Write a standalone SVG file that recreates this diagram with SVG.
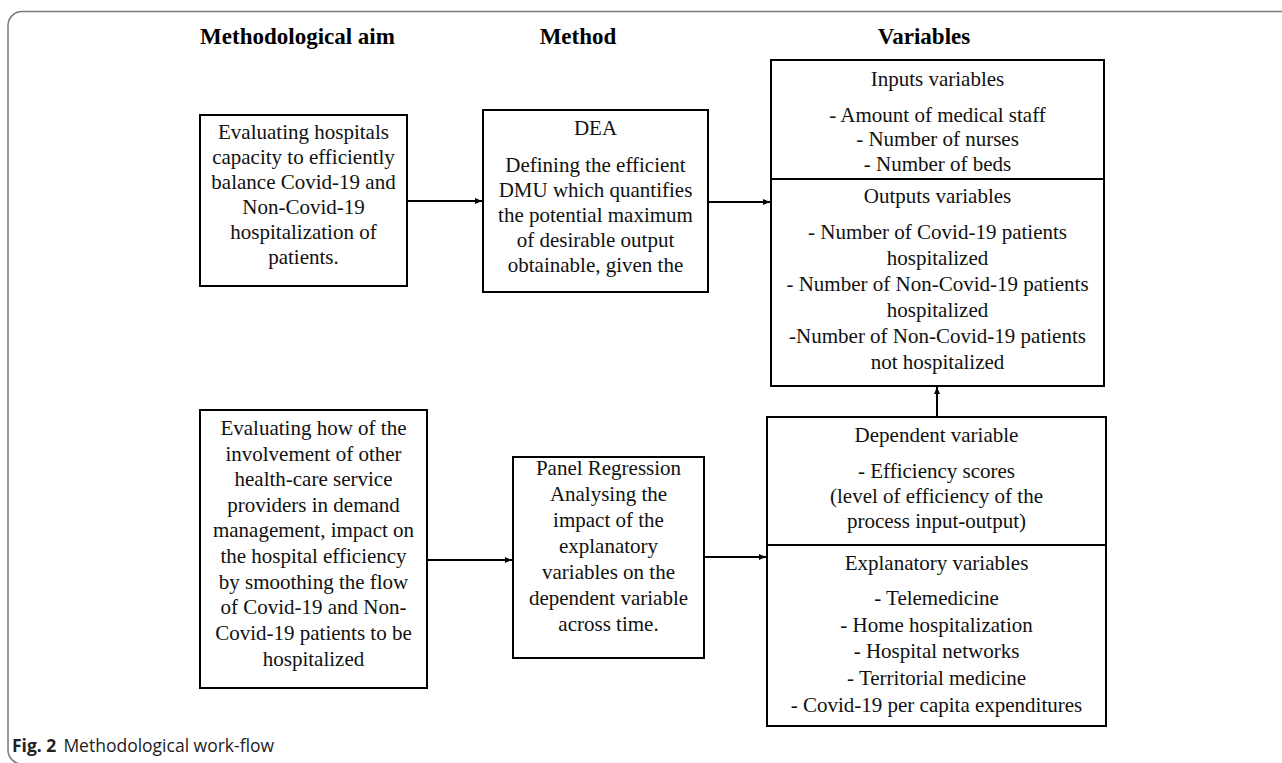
<svg xmlns="http://www.w3.org/2000/svg" width="1282" height="763" viewBox="0 0 1282 763">
<style>
.frame{fill:none;stroke:#7a7a7a;stroke-width:1.5}
.hdr{font-family:"Liberation Serif","Times New Roman",serif;font-weight:bold;font-size:23px;fill:#000;text-anchor:middle}
.t{font-family:"Liberation Serif","Times New Roman",serif;font-size:21px;fill:#111;text-anchor:middle}
.box{fill:#fff;stroke:#000;stroke-width:2}
.div{stroke:#000;stroke-width:2}
.conn{stroke:#000;stroke-width:2;fill:none}
.cap{font-family:"Open Sans","Liberation Sans",sans-serif;font-size:17.5px;fill:#222}
</style>
<defs>
<marker id="ah" markerWidth="8" markerHeight="8" refX="7" refY="4" orient="auto" markerUnits="userSpaceOnUse">
<path d="M0,1 L7,4 L0,7 z" fill="#000"/>
</marker>
</defs>
<rect width="1282" height="763" fill="#fff"/>
<path class="frame" d="M1282,11.5 H22 A14,14 0 0 0 8,25.5 V750 A14,14 0 0 0 22,764"/>

<g id="headers">
<text class="hdr" x="297.5" y="44">Methodological aim</text>
<text class="hdr" x="578" y="44">Method</text>
<text class="hdr" x="924" y="44">Variables</text>
</g>

<g id="connectors">
<line class="conn" x1="407" y1="201" x2="482" y2="201" stroke-width="1.5" marker-end="url(#ah)"/>
<line class="conn" x1="708" y1="202" x2="770" y2="202" marker-end="url(#ah)"/>
<line class="conn" x1="427" y1="560" x2="512" y2="560" marker-end="url(#ah)"/>
<line class="conn" x1="704" y1="557" x2="766" y2="557" marker-end="url(#ah)"/>
<line class="conn" x1="937" y1="417" x2="937" y2="387" stroke-width="1.5" marker-end="url(#ah)"/>
</g>

<g id="aim1">
<rect class="box" x="200" y="115" width="207" height="171"/>
<text class="t" x="303.5" y="139">Evaluating hospitals</text>
<text class="t" x="303.5" y="164">capacity to efficiently</text>
<text class="t" x="303.5" y="189">balance Covid-19 and</text>
<text class="t" x="303.5" y="214">Non-Covid-19</text>
<text class="t" x="303.5" y="239">hospitalization of</text>
<text class="t" x="303.5" y="264">patients.</text>
</g>

<g id="dea">
<rect class="box" x="483" y="110" width="225" height="182"/>
<text class="t" x="595.5" y="135">DEA</text>
<text class="t" x="595.5" y="172">Defining the efficient</text>
<text class="t" x="595.5" y="197">DMU which quantifies</text>
<text class="t" x="595.5" y="222">the potential maximum</text>
<text class="t" x="595.5" y="247">of desirable output</text>
<text class="t" x="595.5" y="272">obtainable, given the</text>
</g>

<g id="io-vars">
<rect class="box" x="771" y="60" width="333" height="326"/>
<line class="div" x1="771" y1="179" x2="1104" y2="179"/>
<text class="t" x="937.5" y="86">Inputs variables</text>
<text class="t" x="937.5" y="122">- Amount of medical staff</text>
<text class="t" x="937.5" y="146">- Number of nurses</text>
<text class="t" x="937.5" y="171">- Number of beds</text>
<text class="t" x="937.5" y="203">Outputs variables</text>
<text class="t" x="937.5" y="239">- Number of Covid-19 patients</text>
<text class="t" x="937.5" y="265">hospitalized</text>
<text class="t" x="937.5" y="291">- Number of Non-Covid-19 patients</text>
<text class="t" x="937.5" y="317">hospitalized</text>
<text class="t" x="937.5" y="343">-Number of Non-Covid-19 patients</text>
<text class="t" x="937.5" y="369">not hospitalized</text>
</g>

<g id="aim2">
<rect class="box" x="200" y="410" width="227" height="278"/>
<text class="t" x="313.5" y="435">Evaluating how of the</text>
<text class="t" x="313.5" y="461">involvement of other</text>
<text class="t" x="313.5" y="486">health-care service</text>
<text class="t" x="313.5" y="512">providers in demand</text>
<text class="t" x="313.5" y="537">management, impact on</text>
<text class="t" x="313.5" y="563">the hospital efficiency</text>
<text class="t" x="313.5" y="589">by smoothing the flow</text>
<text class="t" x="313.5" y="614">of Covid-19 and Non-</text>
<text class="t" x="313.5" y="640">Covid-19 patients to be</text>
<text class="t" x="313.5" y="666">hospitalized</text>
</g>

<g id="panel">
<rect class="box" x="513" y="457" width="191" height="201"/>
<text class="t" x="608.5" y="475">Panel Regression</text>
<text class="t" x="608.5" y="501">Analysing the</text>
<text class="t" x="608.5" y="527">impact of the</text>
<text class="t" x="608.5" y="553">explanatory</text>
<text class="t" x="608.5" y="579">variables on the</text>
<text class="t" x="608.5" y="605">dependent variable</text>
<text class="t" x="608.5" y="631">across time.</text>
</g>

<g id="reg-vars">
<rect class="box" x="767" y="417" width="339" height="309"/>
<line class="div" x1="767" y1="545" x2="1106" y2="545"/>
<text class="t" x="936.5" y="442">Dependent variable</text>
<text class="t" x="936.5" y="478">- Efficiency scores</text>
<text class="t" x="936.5" y="503">(level of efficiency of the</text>
<text class="t" x="936.5" y="528">process input-output)</text>
<text class="t" x="936.5" y="570">Explanatory variables</text>
<text class="t" x="936.5" y="605">- Telemedicine</text>
<text class="t" x="936.5" y="632">- Home hospitalization</text>
<text class="t" x="936.5" y="658">- Hospital networks</text>
<text class="t" x="936.5" y="685">- Territorial medicine</text>
<text class="t" x="936.5" y="712">- Covid-19 per capita expenditures</text>
</g>

<g id="caption">
<text class="cap" x="12" y="752"><tspan font-weight="bold">Fig. 2</tspan><tspan dx="7">Methodological work-flow</tspan></text>
</g>
</svg>
